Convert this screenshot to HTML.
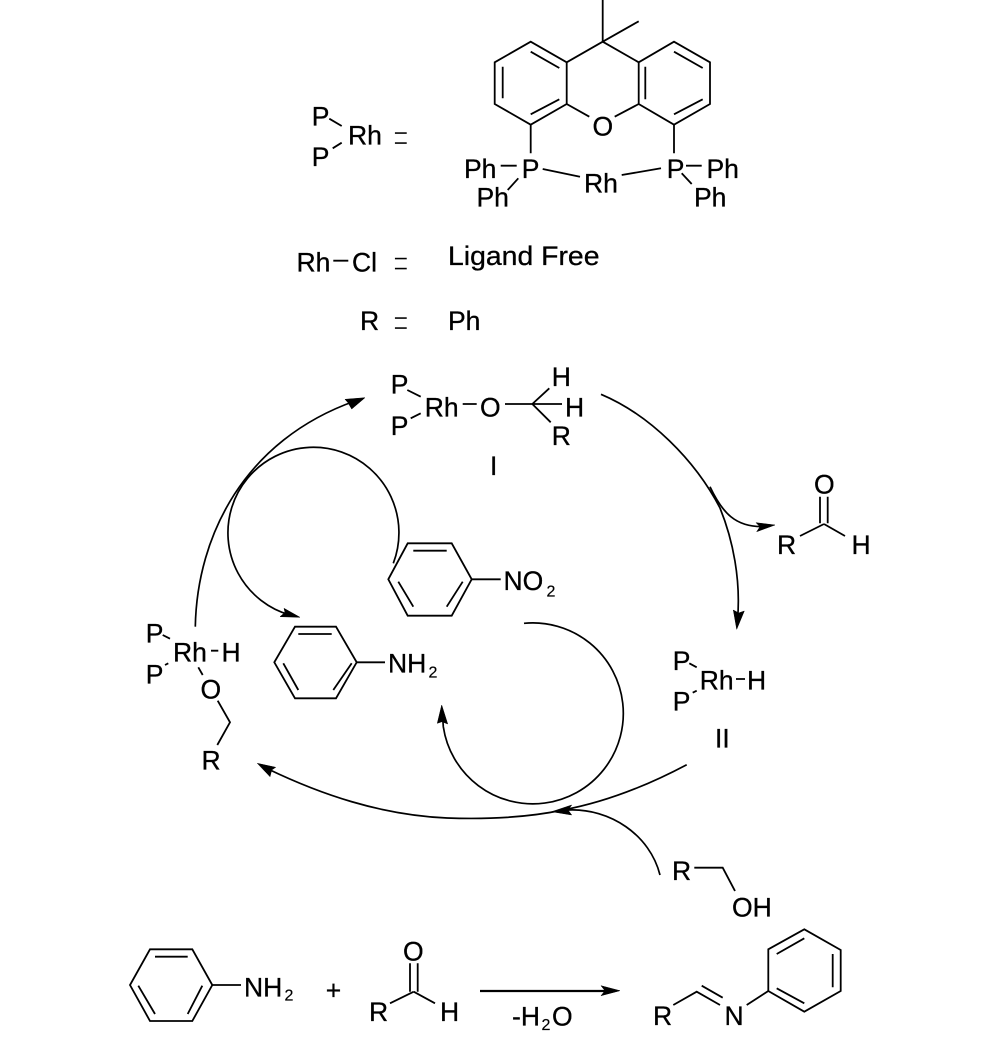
<!DOCTYPE html>
<html>
<head>
<meta charset="utf-8">
<style>
html,body{margin:0;padding:0;background:#fff;}
svg{display:block;}
text{font-family:"Liberation Sans",Arial,sans-serif;font-size:26.5px;fill:#000;stroke:#000;stroke-width:.3px;}
.s{font-size:16px;stroke-width:.2px;}
.e{font-size:26px;stroke:#fff;stroke-width:.8px;}
.b{stroke:#000;stroke-width:1.8;fill:none;}
.c{stroke:#000;stroke-width:1.7;fill:none;}
</style>
</head>
<body>
<svg width="1000" height="1041" viewBox="0 0 1000 1041" xmlns="http://www.w3.org/2000/svg">
<!-- xanthene ligand -->
<g class="b">
<path d="M602.7,0V41.7M602.7,41.7L638.7,21.3M602.7,41.7L566.7,62.3L530.7,41.7L494.7,62.3V104L530.7,124.7L566.7,104V62.3M602.7,41.7L638.7,62.3L674,41.7L710,62.3V104L674,124.7L638.7,104V62.3"/>
<path d="M530.7,51.7L559.3,68M502.7,66.7V98.3M530.7,114.3L559.3,99.3M645.3,66.7V99.3M674,51.7L702.7,68M674,114.3L702.7,99.3"/>
<path d="M566.7,104L589.3,116.7M638.7,104L614.7,116.7M530.7,124.7V153.3M674,124.7V153.3"/>
<path d="M500.7,165.7H516.7M518.3,178.3L507.7,190M542.7,169L580,176.7M621.7,175L661,168.3M686,165.7H701.7M681.7,173.3L691.7,184"/>
<path d="M329.3,118.7L341.7,126M332.7,148.3L341.7,142.7M333.3,260.7H348.3"/>
</g>
<text x="592.5" y="135.5">O</text>
<text x="464" y="178">Ph</text>
<text x="521.7" y="178">P</text>
<text x="476.5" y="206.7">Ph</text>
<text x="584" y="192.3">Rh</text>
<text x="666.7" y="178">P</text>
<text x="706.5" y="178">Ph</text>
<text x="694" y="206.7">Ph</text>
<text x="311.7" y="125.3">P</text>
<text x="348" y="144.7">Rh</text>
<text x="311.7" y="166">P</text>
<text class="e" transform="translate(393.3,150.9) scale(1,1.55)">=</text>
<text x="296.5" y="271.7">Rh</text>
<text x="352" y="271.7">Cl</text>
<text class="e" transform="translate(393.3,276.4) scale(1,1.55)">=</text>
<text x="448" y="265" textLength="151.5" lengthAdjust="spacingAndGlyphs">Ligand Free</text>
<text x="360" y="330">R</text>
<text class="e" transform="translate(393.3,336) scale(1,1.55)">=</text>
<text x="448" y="330">Ph</text>

<!-- complex I -->
<g class="b">
<path d="M407.3,390L420.7,396.7M410.7,418.3L420.7,413.3M462.7,404H476.7M505,404H562M532.3,404L549.3,388.3M532.3,404L550.7,422.3"/>
</g>
<text x="390.7" y="393.3">P</text>
<text x="390.7" y="435">P</text>
<text x="424.7" y="416.7">Rh</text>
<text x="480" y="416.7">O</text>
<text x="551.7" y="386">H</text>
<text x="565" y="416.7">H</text>
<text x="551.7" y="445">R</text>
<text x="490" y="475">I</text>

<!-- aldehyde product -->
<g class="b"><path d="M820,496.7V523.3M827.7,496.7V523.3M824,524L800,536M824,524L845,536"/></g>
<text x="814" y="493.3">O</text>
<text x="777" y="554">R</text>
<text x="851.5" y="554">H</text>

<!-- nitrobenzene -->
<g class="b">
<path d="M407.7,543.3H451.7L471.7,579.3L451.7,615.7H407.7L388.3,579.3Z"/>
<path d="M413.3,550.7H446.7M398.3,581.7L413.3,606.7M462.7,581.7L446.7,606.7M471.7,579.3H500.7"/>
</g>
<text x="503.5" y="590">NO</text><text class="s" x="546.5" y="596.7">2</text>

<!-- aniline -->
<g class="b">
<path d="M295,626.7H336L356.7,662.3L336,698.3H295L274.3,662.3Z"/>
<path d="M298.3,634H331.7M283.3,663.3L298.3,690M351.7,663.3L333.3,690M356.7,662.3H385"/>
</g>
<text x="388" y="672.3">NH</text><text class="s" x="428.5" y="677.7">2</text>

<!-- left complex -->
<g class="b"><path d="M162.7,635L170,638.7M165,665L168.3,663.3M211,650.7H218.3M198.3,667.3L202.7,675M217.7,700.7L230,722.3L217.3,745"/></g>
<text x="145.7" y="642.7">P</text>
<text x="145.7" y="683.3">P</text>
<text x="173" y="661.7">Rh</text>
<text x="221.5" y="661.7">H</text>
<text x="200.5" y="698.3">O</text>
<text x="201.5" y="769.3">R</text>

<!-- complex II -->
<g class="b"><path d="M689.3,663.3L696.7,667.3M692.7,692.7L696.7,690.7M736,679H745"/></g>
<text x="672.7" y="670">P</text>
<text x="672.7" y="710.7">P</text>
<text x="699.7" y="689.3">Rh</text>
<text x="747" y="689.3">H</text>
<text x="715" y="747.3">II</text>

<!-- R-OH -->
<g class="b"><path d="M694.3,867.7H722.7L735,891"/></g>
<text x="672" y="880">R</text>
<text x="732" y="916.7">OH</text>

<!-- curved arrows -->
<g class="c">
<path d="M195.3,626.7C197,535 245,440 355,401"/>
<path d="M393.3,563.3A85.5,85.5 0 1 0 290,615"/>
<path d="M601,394.3C650,415 695,460 720,508C733,540 741,580 737.5,620"/>
<path d="M710,486.7C722,512 735,528 765,526.5"/>
<path d="M524,623.3A90.5,90.5 0 1 1 443.3,726.7L442.5,715"/>
<path d="M686.7,764.7Q622,799 563,810C530,817 490,819.5 447,818C380,815 320,794 268,769"/>
<path d="M660,875C650,835 610,808 568,810"/>
</g>
<g fill="#000" stroke="#000" stroke-width=".5">
<path d="M365,397.7L345,399.3L348,402.7L351.7,409Z"/>
<path d="M300,617.3L284,608.3L285,612.5L280,616.7Z"/>
<path d="M736.7,629.3L733.3,610L738.7,613L744.3,611Z"/>
<path d="M775,525L756,522.7L760,526.7L756.7,531.7Z"/>
<path d="M441.7,705L437.3,723.3L442,721.7L447.7,724Z"/>
<path d="M257.3,763.3L275.7,767.3L271.7,770L270,776.7Z"/>
<path d="M551.7,811.7L571.7,805L568,810L571.7,815Z"/>
<path d="M620,990.7L601,985.7L605,990.7L601,995.7Z"/>
</g>

<!-- bottom equation -->
<g class="b">
<path d="M150,949.3H192.3L212.3,985L192.3,1021H150L130,985Z"/>
<path d="M155,956.7H187.7M138.3,985.7L155,1014M202.3,985.7L187.7,1014M212.3,985H241"/>
<path d="M410,963.3V991.7M417.7,963.3V991.7M413.7,991.7L390,1003.3M413.7,991.7L435,1003.3"/>
<path d="M673.3,1005L696.7,991.7L720,1005M701.7,985.7L722.7,997.7M746.7,1005L768.3,991"/>
<path d="M768.3,991V949.3L804.3,929.3L840.7,950V991L804.3,1011.7Z"/>
<path d="M776.7,954L804.3,938.3M832.7,954V987.3M776.7,988.3L804.3,1003.3"/>
</g>
<path d="M480,991H606" stroke="#000" stroke-width="2.2" fill="none"/>
<text x="244" y="996.7">NH</text><text class="s" x="284.5" y="1000.7">2</text>
<text x="325.7" y="999.5">+</text>
<text x="403" y="960.7">O</text>
<text x="369" y="1021">R</text>
<text x="440" y="1021">H</text>
<text x="512" y="1025.7">-H</text><text class="s" x="541.5" y="1030">2</text><text x="552" y="1025.7">O</text>
<text x="653" y="1025">R</text>
<text x="724.5" y="1025">N</text>
</svg>
</body>
</html>
